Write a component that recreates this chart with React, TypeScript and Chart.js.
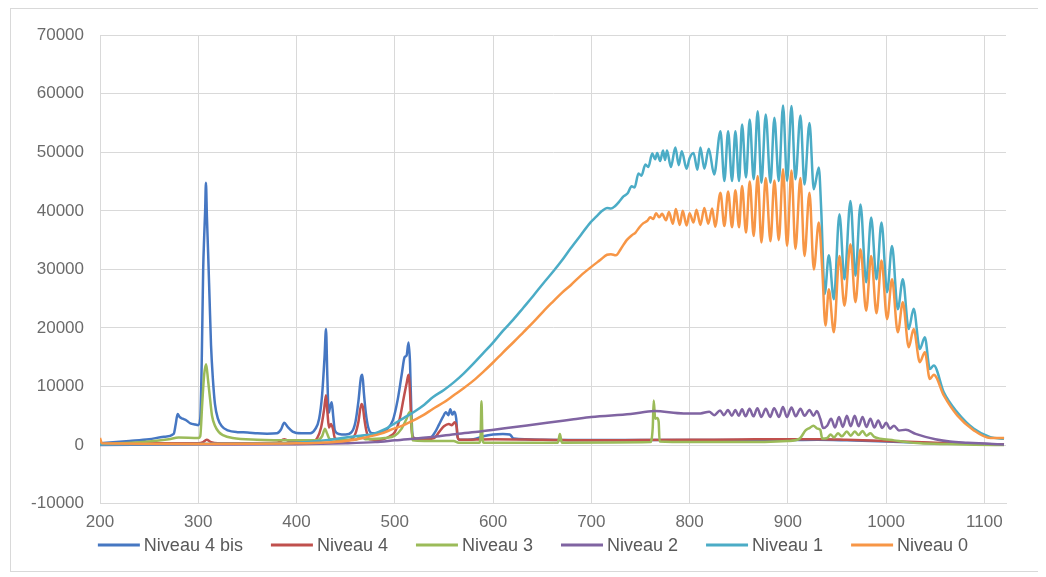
import React, { useEffect, useRef } from "react";
import { Chart, registerables } from "chart.js";

Chart.register(...registerables);

// ---- axis settings ----
const X_MIN = 200;
const X_MAX = 1122;
const xTickValues = [200, 300, 400, 500, 600, 700, 800, 900, 1000, 1100];
const Y_MIN = -10000;
const Y_MAX = 70000;
const Y_STEP = 10000;

const labels = ["Niveau 4 bis", "Niveau 4", "Niveau 3", "Niveau 2", "Niveau 1", "Niveau 0"];
const colors = ["#4677C2", "#C0504D", "#9BBB59", "#8064A2", "#4BACC6", "#F79646"];

// ---- series: [wavelength, value] ----
const niveau4bis: [number, number][] = [
  [200, 300], [230, 700], [250, 1000], [265, 1400], [275, 1900], [277, 3500], [279, 5300], [281, 4800], [284, 4500], [288, 4200], [292, 3700], [297, 3500], [300, 3400], [302, 4500], [303.5, 14000], [305, 30000], [306, 35500], [307, 40000], [307.8, 44800], [308.8, 39000], [310, 33000], [311.5, 25000], [313, 17000], [315, 11000], [317, 7000], [320, 4500], [324, 3200], [330, 2500], [340, 2200], [350, 2150], [360, 2000], [370, 1950], [380, 2000], [384, 2600], [387.5, 3800], [391, 3100], [396, 2300], [405, 2000], [414, 2000], [419, 2700], [423, 4500], [426, 8500], [428.5, 15000], [430, 19800], [431.3, 12000], [432.7, 5500], [434.3, 6600], [435.8, 7300], [437.3, 5000], [439, 2500], [443, 1900], [450, 1800], [456, 2200], [460, 4000], [463, 7500], [465.5, 11500], [467, 12000], [468.5, 9000], [470.5, 5500], [473, 3000], [477, 2000], [485, 2100], [492, 2700], [498, 4200], [503, 7800], [507, 12000], [510, 15000], [512, 15300], [514, 17500], [515.5, 14000], [516.8, 6000], [518.2, 1500], [522, 1000], [530, 1000], [537, 1300], [541, 2200], [545, 3500], [549, 4800], [552, 5600], [554.5, 5100], [556.5, 6100], [558.5, 5200], [560.5, 5700], [562.5, 4500], [563.8, 1500], [566, 900], [580, 1000], [590, 1500], [600, 1800], [610, 1900], [617, 1800], [621, 1100], [650, 900], [700, 850], [800, 850], [900, 850], [930, 900], [960, 800], [1000, 600], [1050, 300], [1120, 100],
];

const niveau4: [number, number][] = [
  [200, 200], [250, 300], [300, 300], [305, 500], [308.5, 900], [313, 500], [320, 300], [380, 400], [387.5, 1000], [395, 500], [415, 500], [421, 1200], [425, 3000], [428, 6000], [430, 8500], [431.5, 5500], [433, 3000], [435, 3600], [437, 2800], [439, 1200], [445, 700], [455, 900], [460, 2000], [463, 4000], [466, 7000], [467.5, 6500], [469, 4500], [471, 2500], [474, 1000], [485, 900], [495, 1500], [500, 2200], [505, 4500], [509, 8000], [512, 10500], [514, 12000], [515.5, 9000], [517, 3000], [518.5, 1200], [530, 1000], [540, 1200], [545, 2200], [550, 3200], [555, 3600], [558, 3400], [561, 3900], [563, 3000], [564, 1300], [566, 900], [600, 1000], [650, 900], [700, 800], [750, 850], [800, 900], [850, 950], [900, 1000], [915, 1000], [935, 1000], [960, 900], [1000, 700], [1050, 400], [1120, 100],
];

const niveau3: [number, number][] = [
  [200, 100], [250, 600], [270, 1000], [280, 1300], [300, 1200], [302, 1500], [304, 7000], [306, 12000], [308, 13800], [310, 11000], [312, 7900], [314, 5000], [317, 3300], [321, 2200], [325, 1700], [335, 1200], [360, 900], [400, 800], [420, 800], [426, 1500], [429, 2800], [431, 2000], [434, 1000], [460, 900], [466, 1500], [470, 1000], [490, 1200], [500, 1600], [507, 2800], [512, 4500], [515, 5600], [516.5, 5000], [518, 800], [530, 700], [560, 700], [565, 400], [586, 400], [587.3, 1500], [588.2, 7500], [589.2, 1500], [590.5, 400], [620, 400], [666, 400], [668, 1900], [670, 400], [760, 500], [762.5, 3000], [763.5, 7600], [765, 4500], [767, 4600], [768.5, 4000], [769.5, 600], [800, 500], [850, 500], [900, 700], [912, 1100], [918, 2500], [922, 2900], [926, 3300], [930, 2800], [933, 2600], [935, 1100], [940, 1200], [943.5, 1800], [947, 1300], [951, 2000], [955, 1500], [960, 2300], [964, 1600], [968, 2300], [972, 1700], [976, 2400], [980, 1600], [984, 2000], [988, 1400], [994, 1100], [1008, 800], [1021, 500], [1035, 300], [1055, 200], [1090, 50], [1120, 0],
];

const niveau2: [number, number][] = [
  [200, 0], [300, 100], [400, 150], [450, 300], [480, 500], [500, 800], [540, 1400], [563, 1900], [587, 2300], [614, 2900], [655, 3800], [682, 4400], [700, 4800], [740, 5300], [764, 5800], [794, 5400], [811, 5400], [820, 5700], [825, 5100], [831, 5900], [835, 5100], [839, 6000], [843, 5000], [846.6, 6000], [850, 5000], [853.4, 6100], [857, 4900], [861, 6200], [865, 4900], [869, 6300], [873, 4800], [877.5, 6200], [882, 4800], [886, 6300], [891, 4800], [895, 6500], [899, 4800], [903.7, 6400], [908, 4900], [912.8, 6200], [917, 5000], [922, 6000], [926, 5000], [929.5, 5800], [933, 4500], [936, 2900], [940, 3300], [944, 4500], [948, 3000], [952, 4800], [956, 3100], [960, 5000], [964, 3200], [968, 5000], [972, 3200], [976, 4800], [980, 3100], [984, 4500], [988, 3000], [992, 4200], [996, 2900], [1000, 3800], [1004, 2800], [1008, 3300], [1013, 2500], [1020, 2600], [1030, 1900], [1040, 1400], [1050, 1000], [1065, 600], [1083, 400], [1100, 250], [1120, 100],
];

const niveau1: [number, number][] = [
  [200, 100], [300, 200], [400, 400], [430, 800], [450, 1300], [465, 1600], [478, 1900], [490, 2700], [499, 3600], [509, 4600], [519, 5600], [530, 6900], [539, 8200], [550, 9400], [560, 10700], [570, 12200], [580, 13900], [590, 15700], [600, 17500], [610, 19500], [621, 21500], [631, 23500], [641, 25500], [651, 27600], [662, 29800], [670, 31500], [679, 33600], [689, 35800], [699, 38000], [705, 39000], [711, 40000], [716, 40500], [720, 40400], [724, 40800], [728, 41500], [733, 42500], [737, 43000], [741, 44200], [744, 44000], [748, 46400], [751, 46000], [755, 47900], [758, 47500], [762, 49800], [765, 48800], [767, 49900], [770, 48500], [773, 50300], [775, 48700], [777, 50300], [781, 47500], [785.5, 50800], [789, 47800], [792, 50200], [797, 47200], [800, 49000], [804, 49900], [808, 47000], [811, 50800], [815, 47200], [819.5, 50600], [825, 46200], [831.4, 53600], [835.4, 45100], [839.2, 53600], [843.2, 45100], [846.6, 53600], [850.3, 45100], [853.4, 54750], [857.4, 45700], [861.2, 55600], [865.2, 45400], [869.3, 57000], [873.1, 44800], [877.5, 56450], [882.3, 44800], [886.3, 55900], [890.8, 45100], [895.1, 58000], [899.2, 45100], [903.7, 57900], [907.7, 45400], [912.8, 56300], [916.9, 44500], [922, 55000], [926.4, 43700], [931.5, 47400], [934, 40000], [937.5, 25800], [941.7, 32400], [946.8, 24900], [952.5, 39400], [957.6, 28300], [963.7, 41700], [968.8, 28900], [973.9, 41100], [979.7, 27800], [984.8, 38850], [990.2, 28300], [995.3, 38000], [1001, 26100], [1006, 34000], [1011.9, 23200], [1017, 28300], [1023, 19800], [1028, 23300], [1034.3, 16400], [1039.4, 18400], [1044.5, 13000], [1048.5, 13600], [1058.7, 9000], [1072.4, 5600], [1089.3, 2780], [1106, 1360], [1120, 1070],
];

const niveau0: [number, number][] = [
  [200, 1200], [202, 300], [300, 200], [400, 300], [450, 700], [470, 1300], [485, 1900], [499, 2800], [509, 3400], [519, 4200], [529, 5100], [539, 6200], [550, 7300], [560, 8500], [570, 9700], [580, 11000], [590, 12500], [600, 14100], [610, 15800], [621, 17600], [631, 19300], [641, 21000], [651, 22800], [661, 24500], [670, 26000], [679, 27300], [689, 28900], [699, 30300], [709, 31600], [716, 32500], [720, 32600], [725, 32400], [730, 33500], [736, 35000], [741, 35800], [745, 36300], [749, 37200], [753, 37900], [757, 38300], [760, 38900], [763, 38600], [766, 39600], [769, 38900], [772, 39500], [776, 38400], [779, 39800], [783, 37800], [786, 40300], [790, 37600], [793, 40000], [797, 37500], [800, 39600], [804, 38000], [807, 40200], [811, 37600], [815, 40500], [819, 37800], [823, 40400], [826, 37300], [831.4, 43100], [835.4, 37400], [839.2, 43300], [843.2, 37200], [846.6, 43500], [850.3, 37200], [853.4, 44250], [857.4, 36300], [861.2, 45000], [865.2, 35700], [869.3, 45950], [873.1, 34600], [877.5, 45600], [882.3, 34800], [886.3, 45200], [890.8, 35000], [895.1, 47100], [899.2, 34000], [903.7, 46900], [907.7, 33500], [912.8, 45600], [916.9, 32300], [922, 43100], [926.4, 30000], [931.5, 38000], [935, 30000], [938.3, 20400], [941.7, 26600], [946.8, 19250], [952.5, 32300], [957.6, 23800], [963.7, 34300], [968.8, 24400], [973.9, 33450], [979.7, 22950], [984.8, 32300], [990.2, 22500], [995.3, 31500], [1001, 21500], [1006, 28300], [1011.9, 19250], [1017, 24400], [1023, 16700], [1028, 19800], [1034.3, 14150], [1039.4, 15850], [1044.5, 11300], [1048.5, 12000], [1058.7, 8470], [1072.4, 5060], [1089.3, 2500], [1106, 1200], [1120, 1200],
];

const seriesData = [niveau4bis, niveau4, niveau3, niveau2, niveau1, niveau0];

const FONT = '"Liberation Sans", Arial, sans-serif';

const legendPlugin = {
  id: "excelLegend",
  afterDraw(chart: any) {
    const ctx = chart.ctx as CanvasRenderingContext2D;
    ctx.save();
    ctx.font = `18px ${FONT}`;
    const items = chart.data.datasets.map((d: any) => ({
      label: d.label as string,
      color: d.borderColor as string,
      w: ctx.measureText(d.label).width,
    }));
    const lineW = 42;
    const gap = 4;
    const spacing = 28;
    const total =
      items.reduce((s: number, it: any) => s + lineW + gap + it.w, 0) +
      spacing * (items.length - 1);
    let x = 522 - total / 2;
    const y = 536;
    ctx.textBaseline = "middle";
    ctx.textAlign = "left";
    for (const it of items) {
      ctx.strokeStyle = it.color;
      ctx.lineWidth = 3;
      ctx.beginPath();
      ctx.moveTo(x, y);
      ctx.lineTo(x + lineW, y);
      ctx.stroke();
      ctx.fillStyle = "#595959";
      ctx.fillText(it.label, x + lineW + gap, y + 1);
      x += lineW + gap + it.w + spacing;
    }
    ctx.restore();
  },
};

export default function App() {
  const canvasRef = useRef<HTMLCanvasElement | null>(null);

  useEffect(() => {
    if (!canvasRef.current) return;
    const chart = new Chart(canvasRef.current, {
      type: "line",
      data: {
        datasets: seriesData.map((s, i) => ({
          label: labels[i],
          data: s.map(([x, y]) => ({ x, y })),
          borderColor: colors[i],
          backgroundColor: colors[i],
          borderWidth: 2.5,
          pointRadius: 0,
          cubicInterpolationMode: "monotone",
          fill: false,
          order: seriesData.length - i,
        })),
      },
      options: {
        animation: false,
        responsive: false,
        maintainAspectRatio: false,
        layout: { padding: { left: 0, right: 33, top: 21, bottom: 29 } },
        plugins: {
          legend: { display: false },
          tooltip: { enabled: false },
        },
        scales: {
          x: {
            type: "linear",
            min: X_MIN,
            max: X_MAX,
            afterBuildTicks: (scale: any) => {
              scale.ticks = xTickValues.map((v) => ({ value: v }));
            },
            grid: { color: "#d9d9d9", lineWidth: 1, drawTicks: false },
            border: { color: "#d9d9d9" },
            ticks: {
              padding: 9,
              color: "#6b6b6b",
              font: { family: FONT, size: 17 },
              callback: (v: any) => String(v),
              maxRotation: 0,
            },
          },
          y: {
            min: Y_MIN,
            max: Y_MAX,
            afterFit: (scale: any) => {
              scale.width = 89;
            },
            grid: { color: "#d9d9d9", lineWidth: 1, drawTicks: false },
            border: { color: "#d9d9d9" },
            ticks: {
              stepSize: Y_STEP,
              padding: 16,
              color: "#6b6b6b",
              font: { family: FONT, size: 17 },
              callback: (v: any) => String(v),
            },
          },
        },
      },
      plugins: [legendPlugin],
    });
    return () => chart.destroy();
  }, []);

  return (
    <div
      style={{
        width: 1028,
        height: 562,
        border: "1px solid #d9d9d9",
        marginLeft: 2,
        background: "#fff",
      }}
    >
      <canvas ref={canvasRef} width={1028} height={562} style={{ display: "block" }} />
    </div>
  );
}
